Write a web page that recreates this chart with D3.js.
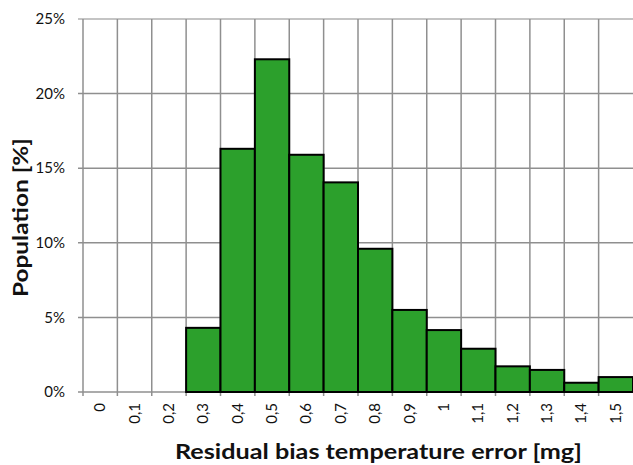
<!DOCTYPE html>
<html><head><meta charset="utf-8">
<script src="https://cdn.jsdelivr.net/npm/d3@7"></script>
<style>body{margin:0;background:#fff}text{font-family:Lato,"Open Sans",sans-serif;fill:#111}</style>
</head><body><svg id="c" width="633" height="465"></svg>
<script>
const categories = ["0","0,1","0,2","0,3","0,4","0,5","0,6","0,7","0,8","0,9","1","1,1","1,2","1,3","1,4","1,5"];
const values = [0,0,0,4.3,16.3,22.3,15.9,14.05,9.6,5.5,4.15,2.9,1.72,1.48,0.62,1.0];
const yTicks = [0,5,10,15,20,25];
const xTitle = "Residual bias temperature error [mg]";
const yTitle = "Population [%]";

const svg = d3.select("#c");
const L = 83, R = 633, T = 19, B = 392;
const x = d3.scaleBand().domain(categories).range([L, R]).padding(0);
const y = d3.scaleLinear().domain([0, 25]).range([B, T]);
const grid = "#8f8f8f";

// horizontal grid
svg.append("g").selectAll("line").data(yTicks).join("line")
  .attr("x1", L - 5).attr("x2", R).attr("y1", d => y(d)).attr("y2", d => y(d))
  .attr("stroke", d => d === 25 ? "#b0b0b0" : grid).attr("stroke-width", 1.5);
// vertical grid at category boundaries
const bounds = categories.map(c => x(c));
svg.append("g").selectAll("line").data(bounds).join("line")
  .attr("x1", d => d).attr("x2", d => d).attr("y1", T).attr("y2", B + 4)
  .attr("stroke", grid).attr("stroke-width", 1.5);

// bars
const barData = values.map((v, i) => ({c: categories[i], v})).filter(d => d.v > 0);
svg.append("g").selectAll("rect").data(barData).join("rect")
  .attr("x", d => x(d.c)).attr("width", x.bandwidth())
  .attr("y", d => y(d.v)).attr("height", d => y(0) - y(d.v))
  .attr("fill", "#2ca02c").attr("stroke", "#000").attr("stroke-width", 2);

// y labels
svg.append("g").selectAll("text").data(yTicks).join("text")
  .attr("x", 65).attr("y", d => y(d)).attr("dy", "0.35em").attr("text-anchor", "end")
  .attr("font-size", 15).text(d => d + "%");

// x labels
svg.append("g").selectAll("text").data(categories).join("text")
  .attr("transform", d => `translate(${x(d) + x.bandwidth() / 2 + 5},403) rotate(-90)`)
  .attr("text-anchor", "end").attr("font-size", 15).text(d => d);

// titles
svg.append("text").attr("x", 175).attr("y", 459).attr("font-size", 21).attr("font-weight", "bold")
  .attr("textLength", 407).attr("lengthAdjust", "spacingAndGlyphs").text(xTitle);
svg.append("text").attr("transform", "translate(28,297) rotate(-90)").attr("font-size", 21).attr("font-weight", "bold")
  .attr("textLength", 159).attr("lengthAdjust", "spacingAndGlyphs").text(yTitle);
</script></body></html>
